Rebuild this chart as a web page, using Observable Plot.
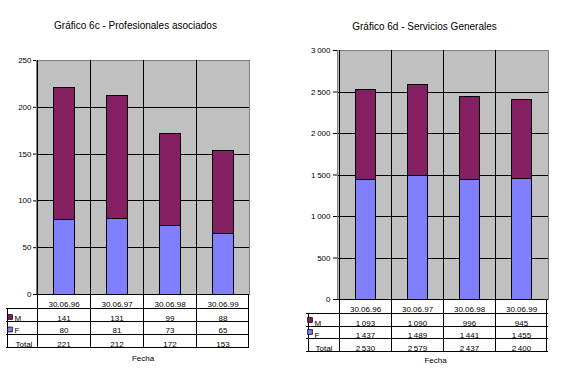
<!DOCTYPE html>
<html><head><meta charset="utf-8">
<script src="https://cdn.jsdelivr.net/npm/d3@7"></script>
<script src="https://cdn.jsdelivr.net/npm/@observablehq/plot@0.6"></script>
<style>
body{margin:0;background:#fff;width:569px;height:390px;position:relative;overflow:hidden;font-family:"Liberation Sans",Arial,sans-serif}
.chart{position:absolute;top:0}
svg line, svg rect {shape-rendering:crispEdges}
</style></head><body>
<div id="c1" class="chart" style="left:0"></div>
<div id="c2" class="chart" style="left:285px"></div>
<script>
const dates = ["30.06.96","30.06.97","30.06.98","30.06.99"];
const seriesNames = ["M","F"];
const profM = [141,131,99,88];
const profF = [80,81,73,65];
const profTotal = [221,212,172,153];
const servM = [1093,1090,996,945];
const servF = [1437,1489,1441,1455];
const servTotal = [2530,2579,2437,2400];
const profTicks = [0,50,100,150,200,250];
const servTicks = [0,500,1000,1500,2000,2500,3000];
const titleProf = "Gráfico 6c - Profesionales asociados";
const titleServ = "Gráfico 6d - Servicios Generales";
const xLabel = "Fecha";
const totalLabel = "Total";
const colors = {M:"#842062", F:"#8080ff"};

const fmtPlain = d => String(d);
const fmtSpace = d => d >= 1000 ? d3.format(",")(d).replace(/,/g, "\u2009") : String(d);

function chart(o) {
  const {title, M, F, Total, ticks, fmt, width, ml, mr, mt, mb, tickSize, tickPadding, t} = o;
  const rows = dates.map((d,i)=>({date:d, M:M[i], F:F[i], Total:Total[i]}));
  const long = [];
  dates.forEach((d,i)=>{ long.push({date:d, sex:"F", value:F[i]}); long.push({date:d, sex:"M", value:M[i]}); });
  const bw = (width-ml-mr)/dates.length;
  const bottom = t.lines[3];
  const zero = () => 0;
  return Plot.plot({
    width, height:390, marginLeft:ml, marginRight:mr, marginTop:mt, marginBottom:mb,
    style:{fontFamily:"'Liberation Sans', Arial, sans-serif", fontSize:"8px", background:"transparent", color:"black", overflow:"visible"},
    x:{type:"band", domain:dates, padding:0, axis:null},
    y:{domain:[ticks[0], ticks[ticks.length-1]], axis:null},
    color:{domain:seriesNames, range:[colors.M, colors.F]},
    marks:[
      Plot.frame({fill:"#c0c0c0"}),
      Plot.ruleY(ticks.slice(1,-1), {stroke:"black"}),
      Plot.frame({stroke:"#808080"}),
      Plot.ruleX(dates.slice(1), {x:d=>d, dx:-bw/2, stroke:"black", insetBottom:-bottom}),
      Plot.ruleX(dates.slice(0,1), {x:d=>d, dx:-bw/2, stroke:"black", insetBottom:-bottom}),
      Plot.ruleX(dates.slice(3), {x:d=>d, dx:bw/2 - 1, y1:zero, y2:zero, stroke:"black", insetBottom:-bottom}),
      Plot.ruleX(dates.slice(0,1), {x:d=>d, dx:-bw/2 - t.labelW, y1:zero, y2:zero, stroke:"black", insetTop:t.lines[0], insetBottom:-bottom}),
      Plot.barY(long, {x:"date", y:"value", fill:"sex", stroke:"black", insetLeft:16, insetRight:16}),
      Plot.ruleY([0], {stroke:"black"}),
      ...t.lines.map(L => Plot.ruleY([0], {stroke:"black", dy:L, insetLeft:-t.labelW})),
      Plot.axisY(ticks, {tickSize, tickPadding, tickFormat:fmt, label:null, fontSize:8}),
      Plot.text(rows, {x:"date", y:zero, text:"date", dy:t.head, lineAnchor:"bottom"}),
      Plot.text(rows, {x:"date", y:zero, text:d=>fmt(d.M), dy:t.m, lineAnchor:"bottom"}),
      Plot.text(rows, {x:"date", y:zero, text:d=>fmt(d.F), dy:t.f, lineAnchor:"bottom"}),
      Plot.text(rows, {x:"date", y:zero, text:d=>fmt(d.Total), dy:t.tot, lineAnchor:"bottom"}),
      Plot.text(["M"], {frameAnchor:"left", y:zero, text:d=>d, textAnchor:"start", dx:t.labX, dy:t.m, lineAnchor:"bottom"}),
      Plot.text(["F"], {frameAnchor:"left", y:zero, text:d=>d, textAnchor:"start", dx:t.labX, dy:t.f, lineAnchor:"bottom"}),
      Plot.text([totalLabel], {frameAnchor:"left", y:zero, text:d=>d, textAnchor:"start", dx:t.labX+1, dy:t.tot, lineAnchor:"bottom"}),
      Plot.dot(["M"], {frameAnchor:"left", y:zero, symbol:"square", r:2.7, fill:colors.M, stroke:"black", strokeWidth:0.8, dx:t.sqX, dy:t.sqM}),
      Plot.dot(["F"], {frameAnchor:"left", y:zero, symbol:"square", r:2.7, fill:colors.F, stroke:"black", strokeWidth:0.8, dx:t.sqX, dy:t.sqF}),
      Plot.text([xLabel], {frameAnchor:"bottom", text:d=>d, dx:o.fechaDx, dy:o.fechaDy, lineAnchor:"middle"}),
      Plot.text([title], {frameAnchor:"top", text:d=>d, dx:o.titleDx, dy:o.titleDy, fontSize:10, lineAnchor:"middle"})
    ]
  });
}

document.getElementById("c1").append(chart({
  title:titleProf, M:profM, F:profF, Total:profTotal, ticks:profTicks, fmt:fmtPlain,
  width:285, ml:36, mr:36, mt:60, mb:96, tickSize:3, tickPadding:2,
  t:{lines:[14,27,40,53], head:12, m:26, f:38.5, tot:52, labelW:30, labX:-22, sqX:-26.5, sqM:22.5, sqF:35},
  fechaDx:0, fechaDy:63.5, titleDx:-7.5, titleDy:-35
}));
document.getElementById("c2").append(chart({
  title:titleServ, M:servM, F:servF, Total:servTotal, ticks:servTicks, fmt:fmtSpace,
  width:284, ml:52, mr:21, mt:50, mb:91, tickSize:4, tickPadding:3,
  t:{lines:[14,27,39,52], head:12, m:26, f:38, tot:51, labelW:31, labX:-23, sqX:-27.5, sqM:20.5, sqF:32.5},
  fechaDx:-7.5, fechaDy:61, titleDx:-18.5, titleDy:-24
}));
</script>
</body></html>
